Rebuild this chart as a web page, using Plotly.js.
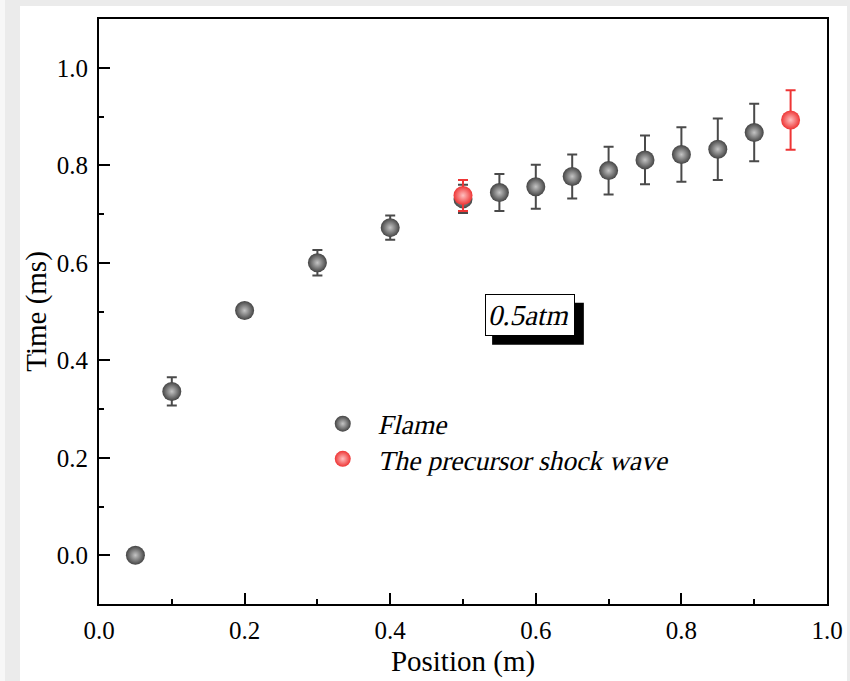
<!DOCTYPE html>
<html>
<head>
<meta charset="utf-8">
<script src="https://cdn.plot.ly/plotly-3.0.1.min.js"></script>
<style>
  html, body { margin: 0; padding: 0; width: 850px; height: 681px; background: #ebebeb; overflow: hidden; }
  #strip { position: absolute; left: 0; top: 0; width: 5px; height: 681px; background: #f7f7f7; }
  #chart { position: absolute; left: 20px; top: 6px; width: 827px; height: 675px; background: #fff; }
  /* the serif italic face is not installed: slant the serif face instead */
  #chart .infolayer text:not(.xtitle):not(.ytitle),
  #chart text.legendtext, #chart text.annotation-text, #chart .slanted {
    transform-box: fill-box; transform-origin: center; transform: skewX(-13deg);
  }
</style>
</head>
<body>
<div id="strip"></div>
<div id="chart"></div>
<script>
// Flame data
const flameX = [0.05, 0.1, 0.2, 0.3, 0.4, 0.5, 0.55, 0.6, 0.65, 0.7, 0.75, 0.8, 0.85, 0.9];
const flameY = [0.0, 0.336, 0.502, 0.600, 0.672, 0.731, 0.744, 0.756, 0.777, 0.789, 0.811, 0.822, 0.833, 0.867];
const flameErr = [0.0, 0.029, 0.0, 0.026, 0.025, 0.029, 0.038, 0.045, 0.045, 0.049, 0.050, 0.056, 0.063, 0.059];
// Precursor shock wave data
const shockX = [0.5, 0.95];
const shockY = [0.738, 0.893];
const shockErr = [0.032, 0.061];

const seriesNames = ['Flame', 'The precursor shock wave'];
const xTicks = [0.0, 0.2, 0.4, 0.6, 0.8, 1.0];
const yTicks = [0.0, 0.2, 0.4, 0.6, 0.8, 1.0];
const annotationText = '0.5atm';

const serif = 'Liberation Serif, Times New Roman, serif';

const traces = [
  {
    x: flameX, y: flameY, type: 'scatter', mode: 'markers', name: seriesNames[0],
    legend: 'legend',
    marker: { size: 19, color: '#444444', gradient: { type: 'radial', color: '#c4c4c4' }, line: { width: 0 } },
    error_y: { type: 'data', array: flameErr, visible: true, color: '#4a4a4a', thickness: 2, width: 5 }
  },
  {
    x: shockX, y: shockY, type: 'scatter', mode: 'markers', name: seriesNames[1],
    legend: 'legend2',
    marker: { size: 19, color: '#ee3535', gradient: { type: 'radial', color: '#ffc0c0' }, line: { width: 0 } },
    error_y: { type: 'data', array: shockErr, visible: true, color: '#ee3535', thickness: 2, width: 5 }
  }
];

const axisCommon = {
  showgrid: false, zeroline: false,
  showline: true, linecolor: '#000', linewidth: 2, mirror: true,
  ticks: 'inside', ticklen: 11, tickwidth: 2, tickcolor: '#000',
  tickfont: { family: serif, size: 25, color: '#000' },
  tickformat: '.1f'
};

const legendCommon = {
  xanchor: 'left', yanchor: 'middle', itemwidth: 64,
  bgcolor: 'rgba(0,0,0,0)', borderwidth: 0,
  font: { family: serif, size: 27.5, color: '#000' }
};

const layout = {
  width: 827, height: 675,
  margin: { l: 79, r: 20, t: 13, b: 77 },
  paper_bgcolor: '#ffffff', plot_bgcolor: '#ffffff',
  showlegend: true,
  xaxis: Object.assign({}, axisCommon, {
    range: [0, 1.0], tickvals: xTicks, ticklabelstandoff: 3,
    minor: { dtick: 0.1, ticks: 'inside', ticklen: 5, tickwidth: 2, tickcolor: '#000' },
    title: { text: 'Position (m)', font: { family: serif, size: 29, color: '#000' }, standoff: 8 }
  }),
  yaxis: Object.assign({}, axisCommon, {
    range: [-0.1, 1.1], tickvals: yTicks, ticklabelstandoff: 4,
    minor: { dtick: 0.1, ticks: 'inside', ticklen: 5, tickwidth: 2, tickcolor: '#000' },
    title: { text: 'Time (ms)', font: { family: serif, size: 29, color: '#000' }, standoff: 8 }
  }),
  legend: Object.assign({}, legendCommon, { x: 0.284, y: 0.308 }),
  legend2: Object.assign({}, legendCommon, { x: 0.284, y: 0.248 }),
  shapes: [
    { type: 'rect', xref: 'x', yref: 'y', x0: 0.540, x1: 0.666, y0: 0.432, y1: 0.518,
      fillcolor: '#000', line: { width: 0 }, layer: 'above' }
  ],
  annotations: [
    {
      x: 0.592, y: 0.492, xref: 'x', yref: 'y', showarrow: false,
      text: annotationText,
      font: { family: serif, size: 29, color: '#000' },
      bgcolor: '#fff', bordercolor: '#000', borderwidth: 1, borderpad: 4
    }
  ]
};

const slantTexts = seriesNames.concat([annotationText]);
function markSlanted() {
  document.querySelectorAll('#chart text').forEach(function (t) {
    if (slantTexts.indexOf((t.textContent || '').trim()) >= 0) {
      t.classList.add('slanted');
      t.style.transformBox = 'fill-box';
      t.style.transformOrigin = 'center';
      t.style.transform = 'skewX(-13deg)';
    }
  });
}

const gd = document.getElementById('chart');
new MutationObserver(markSlanted).observe(gd, { childList: true, subtree: true });
Plotly.newPlot(gd, traces, layout, { displayModeBar: false, staticPlot: true }).then(markSlanted);
markSlanted();
</script>
</body>
</html>
